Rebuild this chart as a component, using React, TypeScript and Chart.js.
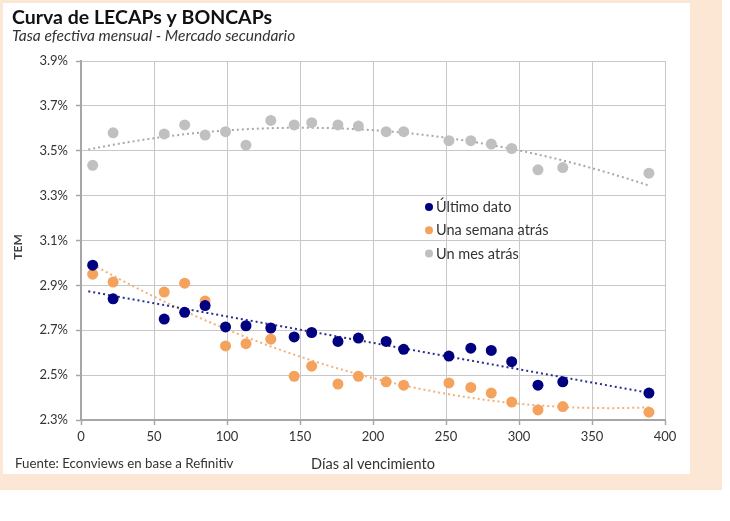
import React, { useEffect, useRef } from "react";
import { Chart, registerables } from "chart.js";

Chart.register(...registerables);

const dias = [8, 22, 57, 71, 85, 99, 113, 130, 146, 158, 176, 190, 209, 221, 252, 267, 281, 295, 313, 330, 389];
const ultimoDato = [2.99, 2.84, 2.75, 2.78, 2.81, 2.715, 2.72, 2.71, 2.67, 2.69, 2.65, 2.665, 2.65, 2.615, 2.585, 2.62, 2.61, 2.56, 2.455, 2.47, 2.42];
const unaSemana = [2.95, 2.915, 2.87, 2.91, 2.83, 2.63, 2.64, 2.66, 2.495, 2.54, 2.46, 2.495, 2.47, 2.455, 2.465, 2.445, 2.42, 2.38, 2.345, 2.36, 2.335];
const unMes = [3.435, 3.58, 3.575, 3.615, 3.57, 3.585, 3.525, 3.635, 3.615, 3.625, 3.615, 3.61, 3.585, 3.585, 3.545, 3.545, 3.53, 3.51, 3.415, 3.425, 3.4];

const seriesNames = ["Último dato", "Una semana atrás", "Un mes atrás"];
const seriesColors = ["#000080", "#F4A25C", "#C0C0C0"];
const trendColors = ["#2B2F8F", "#F2B07A", "#A8A8A8"];
const trendOrder = [1, 2, 2];

const yTicks = [2.3, 2.5, 2.7, 2.9, 3.1, 3.3, 3.5, 3.7, 3.9];
const xTicks = [0, 50, 100, 150, 200, 250, 300, 350, 400];

const titleText = "Curva de LECAPs y BONCAPs";
const subtitleText = "Tasa efectiva mensual - Mercado secundario";
const yTitle = "TEM";
const xTitle = "Días al vencimiento";
const sourceText = "Fuente: Econviews en base a Refinitiv";

const FONT = "Lato, 'Open Sans', sans-serif";

// least squares polynomial fit
function polyFit(xs: number[], ys: number[], order: number): number[] {
  const n = order + 1;
  const A: number[][] = [];
  for (let i = 0; i < n; i++) {
    A.push(new Array(n + 1).fill(0));
  }
  for (let k = 0; k < xs.length; k++) {
    for (let i = 0; i < n; i++) {
      for (let j = 0; j < n; j++) A[i][j] += Math.pow(xs[k], i + j);
      A[i][n] += ys[k] * Math.pow(xs[k], i);
    }
  }
  for (let i = 0; i < n; i++) {
    let max = i;
    for (let r = i + 1; r < n; r++) if (Math.abs(A[r][i]) > Math.abs(A[max][i])) max = r;
    [A[i], A[max]] = [A[max], A[i]];
    for (let r = i + 1; r < n; r++) {
      const f = A[r][i] / A[i][i];
      for (let c = i; c <= n; c++) A[r][c] -= f * A[i][c];
    }
  }
  const coef = new Array(n).fill(0);
  for (let i = n - 1; i >= 0; i--) {
    let s = A[i][n];
    for (let j = i + 1; j < n; j++) s -= A[i][j] * coef[j];
    coef[i] = s / A[i][i];
  }
  return coef;
}

function trend(xs: number[], ys: number[], order: number) {
  const c = polyFit(xs, ys, order);
  const lo = Math.min(...xs) - 3;
  const hi = Math.max(...xs);
  const pts: { x: number; y: number }[] = [];
  const steps = 80;
  for (let i = 0; i <= steps; i++) {
    const x = lo + ((hi - lo) * i) / steps;
    let y = 0;
    for (let p = 0; p < c.length; p++) y += c[p] * Math.pow(x, p);
    pts.push({ x, y });
  }
  return pts;
}

const textPlugin = {
  id: "textPlugin",
  afterDraw(chart: any) {
    const ctx = chart.ctx as CanvasRenderingContext2D;
    const ca = chart.chartArea;
    ctx.save();
    ctx.fillStyle = "#111111";
    ctx.textBaseline = "alphabetic";
    ctx.textAlign = "left";
    ctx.font = `bold 19.5px ${FONT}`;
    ctx.fillText(titleText, 12, 24);
    ctx.fillStyle = "#333333";
    ctx.font = `italic 15.5px ${FONT}`;
    ctx.fillText(subtitleText, 12, 41);

    // y title
    ctx.save();
    ctx.translate(18, 247);
    ctx.rotate(-Math.PI / 2);
    ctx.textAlign = "center";
    ctx.textBaseline = "middle";
    ctx.font = `bold 12px ${FONT}`;
    ctx.fillStyle = "#404040";
    ctx.fillText(yTitle, 0, 0);
    ctx.restore();

    ctx.textBaseline = "middle";
    ctx.fillStyle = "#333333";
    ctx.textAlign = "center";
    ctx.font = `14.5px ${FONT}`;
    ctx.fillText(xTitle, 373, 464);
    ctx.textAlign = "left";
    ctx.font = `13.3px ${FONT}`;
    ctx.fillText(sourceText, 15, 464);

    // legend
    const lx = ca.left + 348;
    const ly = ca.top + 146;
    ctx.font = `14.5px ${FONT}`;
    for (let i = 0; i < seriesNames.length; i++) {
      const y = ly + i * 23.2;
      ctx.beginPath();
      ctx.fillStyle = seriesColors[i];
      ctx.arc(lx, y, 4, 0, Math.PI * 2);
      ctx.fill();
      ctx.fillStyle = "#333333";
      ctx.fillText(seriesNames[i], lx + 7, y + 0.5);
    }
    ctx.restore();
  },
};

export default function App() {
  const ref = useRef<HTMLCanvasElement | null>(null);
  useEffect(() => {
    if (!ref.current) return;
    const series = [ultimoDato, unaSemana, unMes];
    const scatterSets = series.map((vals, i) => ({
      type: "scatter" as const,
      label: seriesNames[i],
      data: dias.map((d, k) => ({ x: d, y: vals[k] })),
      backgroundColor: seriesColors[i],
      borderColor: seriesColors[i],
      borderWidth: 0,
      pointRadius: 5.5,
      order: 0,
    }));
    const trendSets = series.map((vals, i) => ({
      type: "line" as const,
      label: seriesNames[i] + " tendencia",
      data: trend(dias, vals, trendOrder[i]),
      borderColor: trendColors[i],
      borderWidth: 2,
      borderDash: [2, 3],
      pointRadius: 0,
      fill: false,
      tension: 0,
      order: 1,
    }));
    const chart = new Chart(ref.current, {
      type: "scatter",
      data: { datasets: [...trendSets, ...scatterSets] as any },
      options: {
        responsive: false,
        animation: false,
        layout: { padding: { left: 0, right: 65, top: 61, bottom: 61 } },
        plugins: { legend: { display: false }, tooltip: { enabled: false }, title: { display: false } },
        scales: {
          x: {
            type: "linear",
            min: 0,
            max: 400,
            afterBuildTicks: (s: any) => {
              s.ticks = xTicks.map((v) => ({ value: v }));
            },
            afterFit: (s: any) => {
              s.height = 40;
            },
            ticks: {
              color: "#333333",
              font: { family: FONT, size: 13 },
              padding: 4,
              maxRotation: 0,
            },
            grid: {
              color: "#C8C8C8",
              lineWidth: 1,
              borderDash: [2, 2],
              drawTicks: true,
              tickLength: 5,
              tickColor: "#A6A6A6",
              tickBorderDash: [],
              tickWidth: 1.5,
            } as any,
            border: { display: true, color: "#A6A6A6", width: 2 },
          },
          y: {
            type: "linear",
            min: 2.3,
            max: 3.9,
            afterBuildTicks: (s: any) => {
              s.ticks = yTicks.map((v) => ({ value: v }));
            },
            afterFit: (s: any) => {
              s.width = 81;
            },
            ticks: {
              color: "#333333",
              font: { family: FONT, size: 13 },
              padding: 8,
              callback: (v: any) => Number(v).toFixed(1) + "%",
            },
            grid: {
              color: "#C8C8C8",
              lineWidth: 1,
              borderDash: [2, 2],
              drawTicks: true,
              tickLength: 5,
              tickColor: "#A6A6A6",
              tickBorderDash: [],
              tickWidth: 1.5,
            } as any,
            border: { display: true, color: "#A6A6A6", width: 2 },
          },
        },
      },
      plugins: [textPlugin],
    });
    return () => chart.destroy();
  }, []);

  return (
    <div style={{ position: "absolute", left: 0, top: 0, width: 730, height: 521, background: "#FFFFFF" }}>
      <div style={{ position: "absolute", left: 0, top: 0, width: 722, height: 490, background: "#FCE6D4" }} />
      <div style={{ position: "absolute", left: 3, top: 3, width: 687, height: 471, background: "#FFFFFF" }} />
      <canvas ref={ref} width={730} height={521} style={{ position: "absolute", left: 0, top: 0, width: 730, height: 521 }} />
    </div>
  );
}
